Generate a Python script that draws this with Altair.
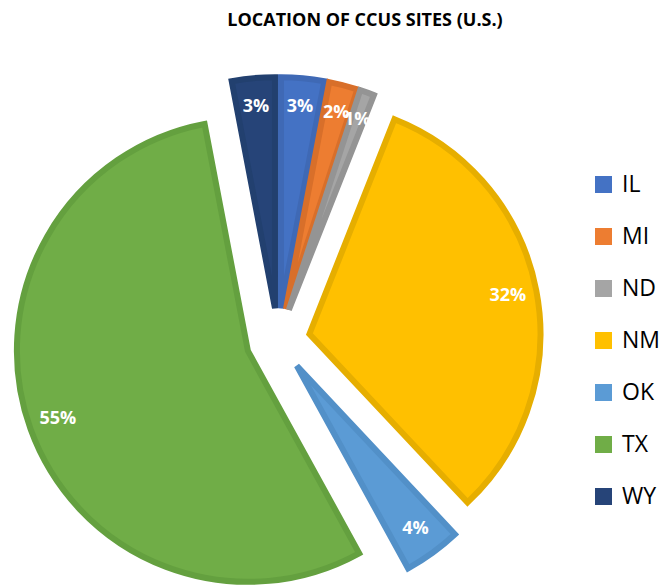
import altair as alt
import pandas as pd

# Data
states = ["IL", "MI", "ND", "NM", "OK", "TX", "WY"]
shares = [3, 2, 1, 32, 4, 55, 3]

fill_colors = ["#4472C4", "#ED7D31", "#A5A5A5", "#FFC000", "#5B9BD5", "#70AD47", "#264478"]
stroke_colors = ["#3F69B5", "#D86F2A", "#949494", "#E6AE00", "#5290C8", "#64A03F", "#22406F"]

df = pd.DataFrame({"state": states, "share": shares})

# layout constants (pixels, plot coords)
CX, CY = 278, 300
EXPLODE = 32
R = 231
LABEL_R = 202

base = alt.Chart(df).transform_joinaggregate(
    total="sum(share)"
).transform_window(
    cum="sum(share)", sort=[alt.SortField("state")], frame=[None, 0]
).transform_calculate(
    t1="datum.cum / datum.total * 2 * PI",
    t0="(datum.cum - datum.share) / datum.total * 2 * PI",
).transform_calculate(
    mid="(datum.t0 + datum.t1) / 2"
).transform_calculate(
    cx=f"{CX} + {EXPLODE} * sin(datum.mid)",
    cy=f"{CY} - {EXPLODE} * cos(datum.mid)",
).transform_calculate(
    lx=f"datum.cx + {LABEL_R} * sin(datum.mid)",
    ly=f"datum.cy - {LABEL_R} * cos(datum.mid)",
    label="format(datum.share / datum.total, '.0%')",
)

arcs = base.mark_arc(radius=R, strokeWidth=6, strokeJoin="miter").encode(
    x=alt.X("cx:Q", scale=None),
    y=alt.Y("cy:Q", scale=None),
    theta=alt.Theta("t0:Q", scale=None),
    theta2="t1:Q",
    color=alt.Color(
        "state:N",
        scale=alt.Scale(domain=states, range=fill_colors),
        legend=alt.Legend(
            title=None,
            orient="none",
            legendX=592,
            legendY=133,
            symbolType="square",
            symbolSize=290,
            symbolStrokeWidth=0,
            labelFontSize=23,
            labelFont="Open Sans",
            labelColor="#000000",
            labelOffset=7,
            rowPadding=28,
        ),
    ),
    stroke=alt.Stroke("state:N", scale=alt.Scale(domain=states, range=stroke_colors), legend=None),
)

labels = base.mark_text(
    color="white", fontSize=18, fontWeight="bold", font="Open Sans", align="center", baseline="middle"
).encode(
    x=alt.X("lx:Q", scale=None),
    y=alt.Y("ly:Q", scale=None),
    text="label:N",
)

chart = alt.layer(arcs, labels).properties(
    width=664,
    height=545,
    title=alt.TitleParams(
        "LOCATION OF CCUS SITES (U.S.)",
        anchor="middle",
        dx=33,
        fontSize=18,
        font="Open Sans",
        fontWeight="bold",
        color="#000000",
        offset=10,
    ),
    autosize=alt.AutoSizeParams(type="none"),
    padding={"top": 40, "left": 0, "right": 0, "bottom": 0},
).configure_view(stroke=None)

chart.save("out.html", embed_options={"renderer": "svg", "actions": False})
